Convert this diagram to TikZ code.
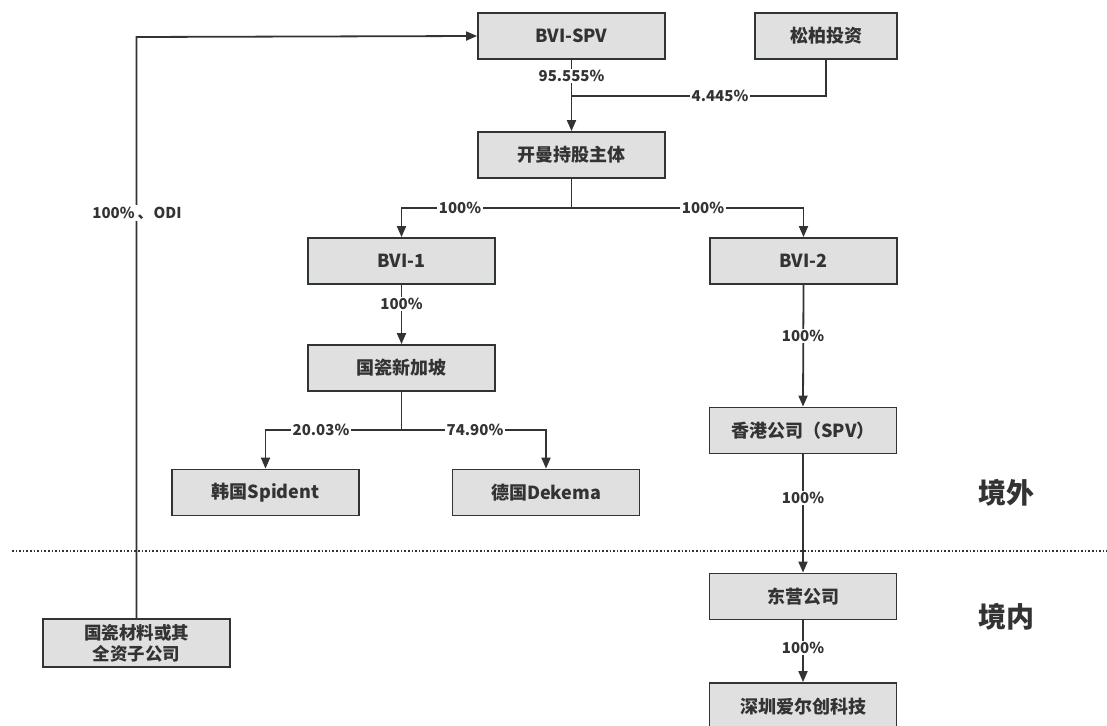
\documentclass[tikz,border=0pt]{standalone}
\usepackage{fontspec}
\setmainfont{Noto Sans CJK SC}
\usetikzlibrary{arrows.meta}
\definecolor{ink}{HTML}{333333}
\definecolor{boxfill}{HTML}{E0E0E0}
\definecolor{boxline}{HTML}{2F3537}
\begin{document}
\begin{tikzpicture}[x=1pt,y=-1pt,
  box/.style={draw=boxline,line width=1.8pt,fill=boxfill,minimum width=187pt,minimum height=46pt,inner sep=0pt,
     font=\fontsize{18}{21}\selectfont\bfseries,text=ink,align=center},
  lbl/.style={fill=white,inner sep=1.5pt,font=\fontsize{15}{18}\selectfont\bfseries,text=ink},
  side/.style={font=\fontsize{28}{32}\selectfont\bfseries,text=ink},
  conn/.style={draw=ink,line width=1.8pt},
  arr/.style={conn,-{Triangle[length=11pt,width=9pt]}}]
\useasboundingbox (0,0) rectangle (1107,725);
% nodes
\node[box] (bvispv) at (571.5,36) {BVI-SPV};
\node[box,minimum width=142pt] (songbai) at (826,36) {松柏投资};
\node[box] (kaiman) at (571.5,155) {开曼持股主体};
\node[box] (bvi1) at (401.5,261) {BVI-1};
\node[box] (bvi2) at (803.5,261) {BVI-2};
\node[box] (sg) at (401.5,368) {国瓷新加坡};
\node[box] (kr) at (265.5,492.5) {韩国Spident};
\node[box] (de) at (546,492.5) {德国Dekema};
\node[box] (hk) at (803,430.5) {香港公司（SPV）};
\node[box] (dy) at (803,596.5) {东营公司};
\node[box,minimum height=48pt] (sz) at (803,707) {深圳爱尔创科技};
\node[box,minimum height=48pt,font=\fontsize{17.5}{21}\selectfont\bfseries] (gc) at (136.5,643) {国瓷材料或其\\全资子公司};
\node[side] (jw) at (1006,493) {境外};
\node[side] (jn) at (1006,617) {境内};
% coordinates
\coordinate (j1) at (571.5,96);
\coordinate (s1) at (571.5,208);
\coordinate (s2) at (401.5,430);
\coordinate (odi) at (136.5,37);
\coordinate (dl) at (12,551);
\coordinate (dr) at (1107,551);
% connectors
\draw[arr] (bvispv.south) -- (kaiman.north);
\draw[conn] (songbai.south) |- (j1);
\draw[arr] (kaiman.south) -- (s1) -| (bvi1.north);
\draw[arr] (s1) -| (bvi2.north);
\draw[arr] (bvi1.south) -- (sg.north);
\draw[arr] (sg.south) -- (s2) -| (kr.north);
\draw[arr] (s2) -| (de.north);
\draw[arr] (bvi2.south) -- (hk.north);
\draw[arr] (hk.south) -- (dy.north);
\draw[arr] (dy.south) -- (sz.north);
\draw[arr] (gc.north) -- (odi) -- (bvispv.west);
\draw[ink,line width=1.5pt,dash pattern=on 1.6pt off 2pt] (dl) -- (dr);
% labels
\node[lbl] at (571.5,76) {95.555\%};
\node[lbl] at (720,96) {4.445\%};
\node[lbl] at (460,208) {100\%};
\node[lbl] at (703,208) {100\%};
\node[lbl] at (401.5,304) {100\%};
\node[lbl] at (321,430) {20.03\%};
\node[lbl] at (475,430) {74.90\%};
\node[lbl] at (803,336) {100\%};
\node[lbl] at (803,498) {100\%};
\node[lbl] at (803,648) {100\%};
\node[lbl] at (137,213) {100\%\hspace{3pt}、\hspace{1pt}ODI};
\end{tikzpicture}
\end{document}
